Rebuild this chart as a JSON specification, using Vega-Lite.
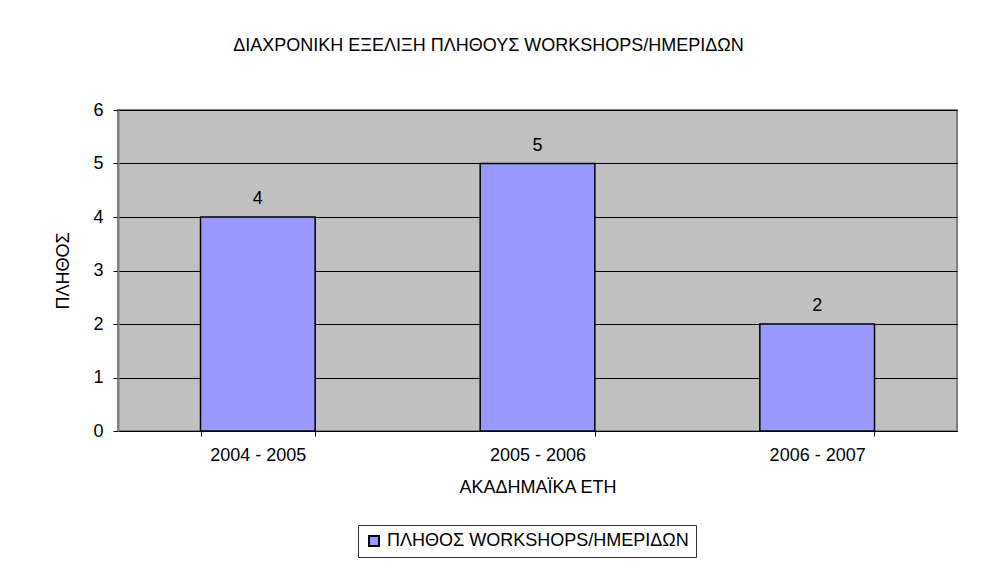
{
  "$schema": "https://vega.github.io/schema/vega-lite/v6.json",
  "autosize": {"type": "none"},
  "width": 839,
  "height": 321,
  "padding": {"left": 118, "top": 110, "right": 30, "bottom": 141},
  "background": "white",
  "title": {
    "text": "ΔΙΑΧΡΟΝΙΚΗ ΕΞΕΛΙΞΗ ΠΛΗΘΟΥΣ WORKSHOPS/ΗΜΕΡΙΔΩΝ",
    "anchor": "middle",
    "dx": -49,
    "offset": 46,
    "font": "Liberation Sans",
    "fontSize": 18,
    "fontWeight": "normal",
    "color": "black"
  },
  "data": {
    "values": [
      {"year": "2004 - 2005", "count": 4, "series": "ΠΛΗΘΟΣ WORKSHOPS/ΗΜΕΡΙΔΩΝ"},
      {"year": "2005 - 2006", "count": 5, "series": "ΠΛΗΘΟΣ WORKSHOPS/ΗΜΕΡΙΔΩΝ"},
      {"year": "2006 - 2007", "count": 2, "series": "ΠΛΗΘΟΣ WORKSHOPS/ΗΜΕΡΙΔΩΝ"}
    ]
  },
  "encoding": {
    "x": {
      "field": "year",
      "type": "nominal",
      "sort": null,
      "scale": {"paddingInner": 0.59, "paddingOuter": 0.295},
      "axis": {
        "title": "ΑΚΑΔΗΜΑΪΚΑ ΕΤΗ",
        "labelAngle": 0,
        "tickBand": "extent",
        "tickSize": 5,
        "tickColor": "black",
        "domainColor": "black",
        "labelPadding": 10,
        "titlePadding": 14
      }
    },
    "y": {
      "field": "count",
      "type": "quantitative",
      "scale": {"domain": [0, 6]},
      "axis": {
        "title": "ΠΛΗΘΟΣ",
        "values": [0, 1, 2, 3, 4, 5, 6],
        "tickSize": 5,
        "tickColor": "black",
        "domainColor": "#808080",
        "domainWidth": 2,
        "labelPadding": 10,
        "titlePadding": 20,
        "grid": true,
        "gridColor": "black",
        "gridWidth": 1
      }
    }
  },
  "layer": [
    {
      "mark": {"type": "bar", "stroke": "black", "strokeWidth": 1.5},
      "encoding": {
        "fill": {
          "field": "series",
          "type": "nominal",
          "scale": {"range": ["#9999FF"]},
          "legend": {
            "title": null,
            "orient": "none",
            "legendX": 240,
            "legendY": 415,
            "symbolType": "square",
            "symbolSize": 100,
            "symbolStrokeColor": "black",
            "symbolStrokeWidth": 2,
            "strokeColor": "#333333",
            "fillColor": "white",
            "padding": 7,
            "labelFontSize": 18,
            "labelFont": "Liberation Sans",
            "labelColor": "black",
            "labelLimit": 600
          }
        }
      }
    },
    {
      "mark": {"type": "text", "dy": -18, "font": "Liberation Sans", "fontSize": 18, "color": "black"},
      "encoding": {"text": {"field": "count", "type": "quantitative"}}
    }
  ],
  "config": {
    "view": {"fill": "#C0C0C0", "stroke": "#808080", "strokeWidth": 2},
    "axis": {
      "labelFont": "Liberation Sans",
      "labelFontSize": 18,
      "labelColor": "black",
      "titleFont": "Liberation Sans",
      "titleFontSize": 18,
      "titleFontWeight": "normal",
      "titleColor": "black"
    }
  }
}
